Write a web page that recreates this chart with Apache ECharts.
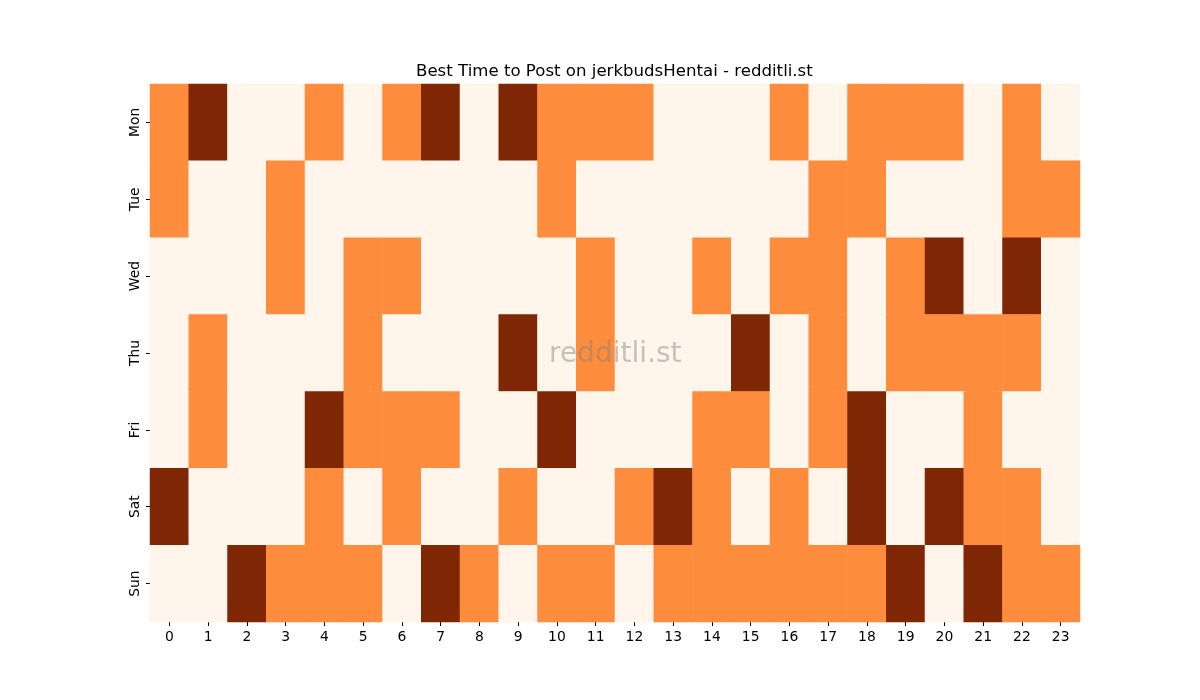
<!DOCTYPE html>
<html>
<head>
<meta charset="utf-8">
<script src="https://cdn.jsdelivr.net/npm/echarts@6/dist/echarts.min.js"></script>
<style>
  html, body { margin: 0; padding: 0; background: #fff; }
  #chart { width: 1200px; height: 700px; }
</style>
</head>
<body>
<div id="chart"></div>
<script>
var hours = ['0', '1', '2', '3', '4', '5', '6', '7', '8', '9', '10', '11',
    '12', '13', '14', '15', '16', '17', '18', '19', '20', '21', '22', '23'];
var days = ['Mon', 'Tue', 'Wed', 'Thu', 'Fri', 'Sat', 'Sun'];

// 0 = low, 1 = mid, 2 = high (one row per day, one value per hour)
var mon = [1, 2, 0, 0, 1, 0, 1, 2, 0, 2, 1, 1, 1, 0, 0, 0, 1, 0, 1, 1, 1, 0, 1, 0];
var tue = [1, 0, 0, 1, 0, 0, 0, 0, 0, 0, 1, 0, 0, 0, 0, 0, 0, 1, 1, 0, 0, 0, 1, 1];
var wed = [0, 0, 0, 1, 0, 1, 1, 0, 0, 0, 0, 1, 0, 0, 1, 0, 1, 1, 0, 1, 2, 0, 2, 0];
var thu = [0, 1, 0, 0, 0, 1, 0, 0, 0, 2, 0, 1, 0, 0, 0, 2, 0, 1, 0, 1, 1, 1, 1, 0];
var fri = [0, 1, 0, 0, 2, 1, 1, 1, 0, 0, 2, 0, 0, 0, 1, 1, 0, 1, 2, 0, 0, 1, 0, 0];
var sat = [2, 0, 0, 0, 1, 0, 1, 0, 0, 1, 0, 0, 1, 2, 1, 0, 1, 0, 2, 0, 2, 1, 1, 0];
var sun = [0, 0, 2, 1, 1, 1, 0, 2, 1, 0, 1, 1, 0, 1, 1, 1, 1, 1, 1, 2, 0, 2, 1, 1];

var rows = [mon, tue, wed, thu, fri, sat, sun];
var cells = [];
for (var d = 0; d < rows.length; d++) {
    for (var h = 0; h < rows[d].length; h++) {
        cells.push([h, d, rows[d][h]]);
    }
}

var font = 'DejaVu Sans';
var chart = echarts.init(document.getElementById('chart'));
chart.setOption({
    animation: false,
    backgroundColor: '#ffffff',
    title: {
        text: 'Best Time to Post on jerkbudsHentai - redditli.st',
        left: 411,
        top: 58,
        textStyle: {
            fontFamily: font,
            fontWeight: 'normal',
            fontSize: 16.6,
            color: '#000000'
        }
    },
    grid: {
        left: 150,
        right: 120,
        top: 84,
        bottom: 78
    },
    xAxis: {
        type: 'category',
        data: hours,
        axisLine: { show: false },
        axisTick: {
            show: true,
            alignWithLabel: true,
            length: 4,
            lineStyle: { color: '#000', width: 1 }
        },
        axisLabel: {
            fontFamily: font,
            fontSize: 13.9,
            color: '#000',
            margin: 8,
            interval: 0
        },
        splitLine: { show: false }
    },
    yAxis: {
        type: 'category',
        data: days,
        inverse: true,
        axisLine: { show: false },
        axisTick: {
            show: true,
            alignWithLabel: true,
            length: 4,
            lineStyle: { color: '#000', width: 1 }
        },
        axisLabel: {
            fontFamily: font,
            fontSize: 13.9,
            color: '#000',
            rotate: 90,
            margin: 8
        },
        splitLine: { show: false }
    },
    visualMap: {
        show: false,
        type: 'continuous',
        min: 0,
        max: 2,
        dimension: 2,
        inRange: { color: ['#fff5eb', '#fd8d3c', '#7f2704'] }
    },
    series: [{
        type: 'heatmap',
        data: cells,
        itemStyle: { borderWidth: 0 },
        emphasis: { disabled: true }
    }],
    graphic: [{
        type: 'text',
        left: 549,
        top: 341,
        z: 100,
        style: {
            text: 'redditli.st',
            font: '28px "DejaVu Sans"',
            fill: 'rgba(128,128,128,0.45)'
        }
    }]
});
</script>
</body>
</html>
